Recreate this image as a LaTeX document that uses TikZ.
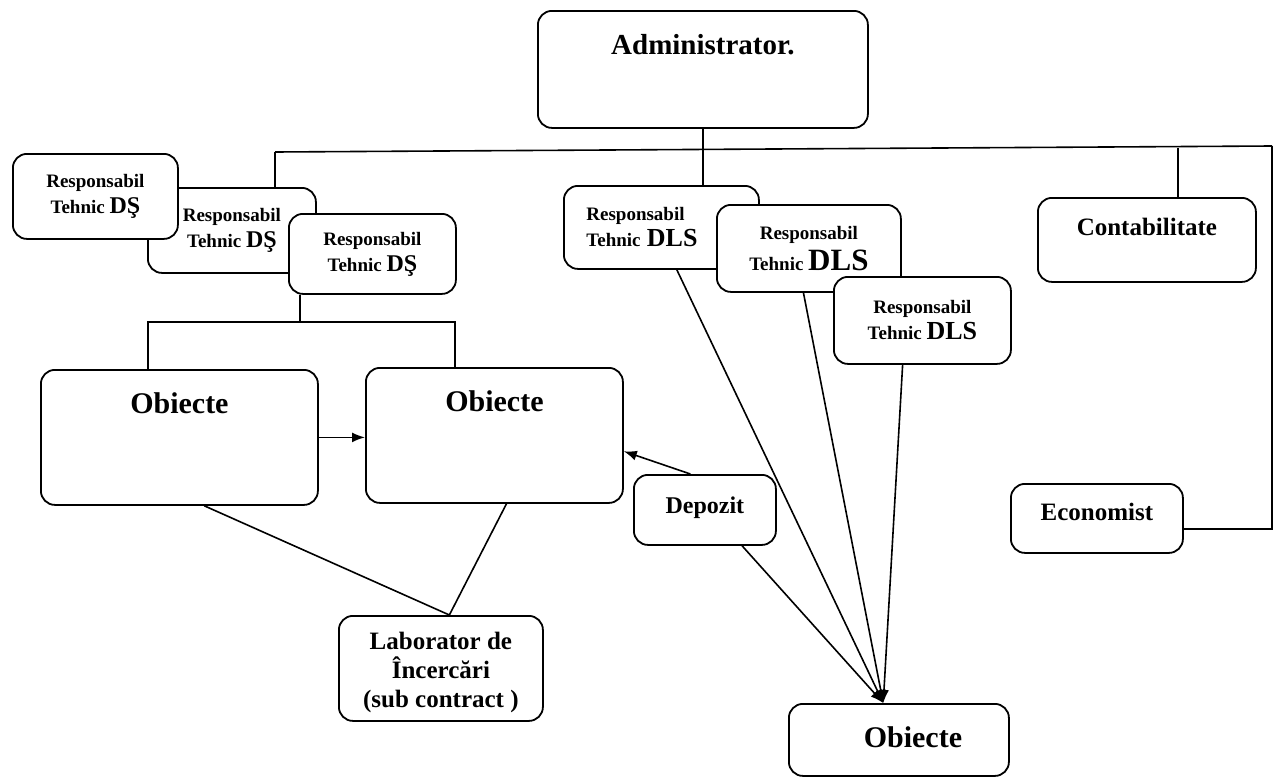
\documentclass[tikz,border=0pt]{standalone}
\usepackage{fontspec}
\setmainfont{Liberation Serif}
\usetikzlibrary{arrows.meta,calc}
\newcommand{\fRs}{\fontsize{19}{26}\selectfont}
\tikzset{
  box/.style={draw=black, line width=1.8pt, rounded corners=14pt, fill=white, inner sep=0pt, anchor=north west},
  conn/.style={draw=black, line width=1.6pt},
  arr/.style={conn, -{Latex[length=13pt,width=10pt]}},
}
\begin{document}
\begin{tikzpicture}[x=1pt,y=1pt]
\useasboundingbox[fill=white] (0,0) rectangle (1277,-779);

% Administrator
\node[box, minimum width=330pt, minimum height=117pt, text height=44pt, text depth=73pt,
      font=\bfseries\fontsize{29}{32}\selectfont] (adm) at (537,-10) {Administrator.};

% bus coordinates
\coordinate (busL) at (275,-152);
\coordinate (busC) at (1178,-148);
\coordinate (busR) at (1272,-146);

% DS boxes (DS2 behind)
\node[box, minimum width=168pt, minimum height=85pt, align=center, font=\bfseries\fRs] (ds2) at (147,-187)
  {Responsabil\\Tehnic {\fontsize{24}{26}\selectfont DŞ}};
\node[box, minimum width=165pt, minimum height=85pt, align=center, font=\bfseries\fRs] (ds1) at (12,-153)
  {Responsabil\\Tehnic {\fontsize{24}{26}\selectfont DŞ}};
\node[box, minimum width=167pt, minimum height=80pt, align=center, font=\bfseries\fRs] (ds3) at (288,-213)
  {Responsabil\\Tehnic {\fontsize{24}{26}\selectfont DŞ}};

% DLS boxes
\node[box, minimum width=195pt, minimum height=83pt, align=left, text width=150pt, font=\bfseries\fRs] (dls1) at (563,-185)
  {Responsabil\\Tehnic {\fontsize{26}{26}\selectfont DLS}};
\node[box, minimum width=184pt, minimum height=87pt, align=center, font=\bfseries\fontsize{19}{31}\selectfont] (dls2) at (716,-204)
  {Responsabil\\Tehnic {\fontsize{31}{31}\selectfont DLS}};
\node[box, minimum width=177pt, minimum height=87pt, align=center, font=\bfseries\fRs] (dls3) at (833,-276)
  {Responsabil\\Tehnic {\fontsize{26}{26}\selectfont DLS}};

% Contabilitate, Economist
\node[box, minimum width=218pt, minimum height=84pt, text height=38pt, text depth=46pt,
      font=\bfseries\fontsize{25}{28}\selectfont] (cb) at (1037,-197) {Contabilitate};
\node[box, minimum width=172pt, minimum height=69pt, text height=37pt, text depth=32pt,
      font=\bfseries\fontsize{25}{28}\selectfont] (eco) at (1010,-483) {Economist};

% Obiecte boxes
\node[box, minimum width=277pt, minimum height=135pt, text height=44pt, text depth=91pt,
      font=\bfseries\fontsize{30}{32}\selectfont] (obj1) at (40,-369) {Obiecte};
\node[box, minimum width=257pt, minimum height=135pt, text height=44pt, text depth=91pt,
      font=\bfseries\fontsize{30}{32}\selectfont] (obj2) at (365,-367) {Obiecte};
\node[box, minimum width=220pt, minimum height=72pt, text height=44pt, text depth=28pt,
      font=\bfseries\fontsize{30}{32}\selectfont] (objc) at (788,-703) {\hspace*{28pt}Obiecte};

% Depozit
\node[box, minimum width=142pt, minimum height=70pt, text height=39pt, text depth=31pt,
      font=\bfseries\fontsize{24}{28}\selectfont] (dep) at (633,-474) {Depozit};

% Laborator
\node[box, minimum width=204pt, minimum height=105pt, align=center,
      font=\bfseries\fontsize{25}{29}\selectfont] (lab) at (338,-615)
  {\rule{0pt}{26pt}Laborator de\\Încercări\\(sub contract )};

% Hierarchy lines
\draw[conn] (adm.south) -- (adm.south |- dls1.north);
\draw[conn] (busL) -- (busR);
\draw[conn] (busL) -- (busL |- ds2.north);
\draw[conn] (busC) -- (busC |- cb.north);
\draw[conn] (busR) -- (busR |- eco.353) -- (eco.353);

\coordinate (barL) at (148,-322);
\coordinate (barM) at (300,-322);
\coordinate (barR) at (455,-322);
\draw[conn] (barM |- ds3.south) -- (barM);
\draw[conn] (barL |- obj1.north) -- (barL) -- (barR) -- (barR |- obj2.north);

% Arrows
\draw[arr] (obj1.east) -- (obj1.east -| obj2.west);
\draw[arr] (dep.112) -- (obj2.353);
\draw[arr] (dls1.290) -- (objc.113);
\draw[arr] (dls2.263) -- (objc.113);
\draw[arr] (dls3.246) -- (objc.113);
\draw[arr] (dep.316) -- (objc.113);

% Lab lines
\draw[conn] (obj1.290) -- (lab.81);
\draw[conn] (obj2.280) -- (lab.81);
\end{tikzpicture}
\end{document}
